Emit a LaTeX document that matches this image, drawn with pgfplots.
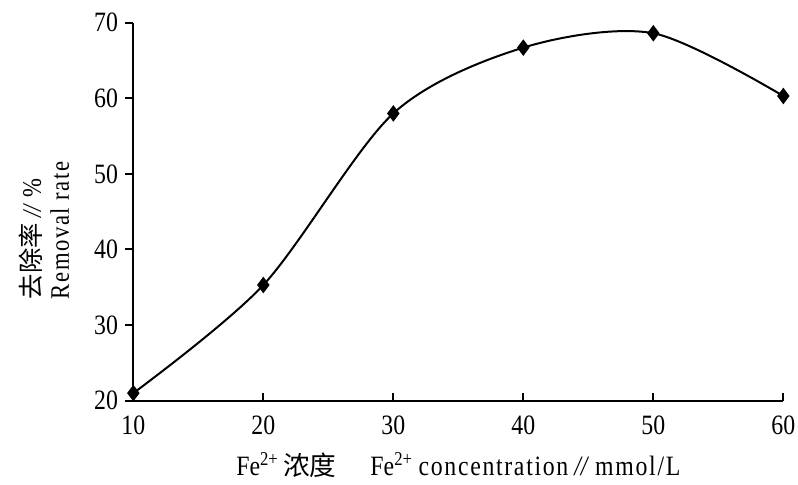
\documentclass[border=0pt]{standalone}
\usepackage{pgfplots}
\pgfplotsset{compat=1.18}
\usepackage{fontspec}
\setmainfont[FakeStretch=0.85]{Liberation Serif}
\newfontfamily\cjk{Noto Sans CJK SC}
\newfontfamily\spaced[FakeStretch=0.85,LetterSpace=6]{Liberation Serif}
\begin{document}
\begin{tikzpicture}
\begin{axis}[
  scale only axis,
  width=487.5pt, height=283.5pt,
  xmin=10, xmax=60, ymin=20, ymax=70,
  xtick={10,20,...,60}, ytick={20,30,...,70},
  axis x line*=bottom, axis y line*=left,
  x axis line style={-, line width=1.5pt},
  y axis line style={-, line width=1.5pt},
  xtick style={line width=1.5pt, black},
  ytick style={line width=1.5pt, black},
  xtick align=inside, ytick align=outside,
  major tick length=6pt,
  tick label style={font=\fontsize{21}{21}\selectfont},
  /pgf/number format/assume math mode=true,
  xticklabel style={yshift=-8pt},
  yticklabel style={xshift=-2pt},
  xlabel={Fe\textsuperscript{2+}\,{\cjk\fontsize{20}{20}\selectfont 浓度}\quad\ Fe\textsuperscript{2+} {\spaced concentration} \textit{//} {\spaced mmol/L}},
  xlabel style={font=\fontsize{21}{21}\selectfont, yshift=-6pt},
  ylabel={\begin{tabular}{@{}l@{}}{\cjk\fontsize{19}{19}\selectfont 去除率} \textit{//} \%\\[1pt] {\spaced Removal rate}\end{tabular}},
  ylabel style={font=\fontsize{20}{20}\selectfont, at={(ticklabel cs:0.45)}, anchor=south, yshift=6pt},
  clip=false,
]
\addplot[black, line width=1.5pt, smooth, tension=0.5, mark=diamond*, mark size=5pt, mark options={solid}]
coordinates {(10,21.0) (20,35.3) (30,58.0) (40,66.7) (50,68.6) (60,60.3)};
\path (rel axis cs:0,0) ++(-100pt,-63pt) coordinate (bl);
\path (rel axis cs:1,1) ++(11pt,17pt) coordinate (tr);
\end{axis}
\pgfresetboundingbox
\path (bl) rectangle (tr);
\end{tikzpicture}
\end{document}
